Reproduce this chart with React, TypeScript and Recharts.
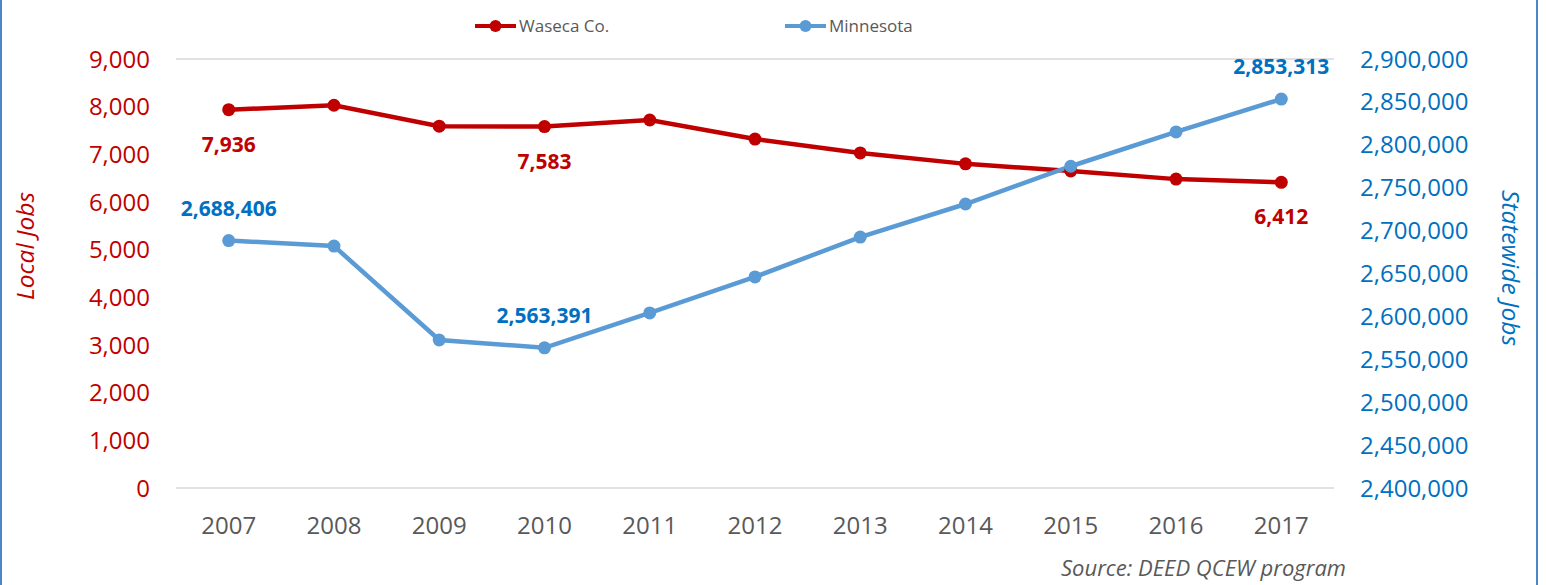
import { LineChart, Line, XAxis, YAxis, CartesianGrid } from 'recharts';

const years = ['2007', '2008', '2009', '2010', '2011', '2012', '2013', '2014', '2015', '2016', '2017'];
const wasecaJobs = [7936, 8030, 7590, 7583, 7720, 7320, 7030, 6800, 6650, 6480, 6412];
const minnesotaJobs = [2688406, 2682000, 2572500, 2563391, 2604000, 2646000, 2692500, 2731000, 2775000, 2815000, 2853313];
const localTicks = [0, 1000, 2000, 3000, 4000, 5000, 6000, 7000, 8000, 9000];
const statewideTicks = [2400000, 2450000, 2500000, 2550000, 2600000, 2650000, 2700000, 2750000, 2800000, 2850000, 2900000];
const labelledYears = ['2007', '2010', '2017'];

const RED = '#C00000';
const BLUE_LINE = '#5B9BD5';
const BLUE_TEXT = '#0070C0';
const GRAY = '#595959';
const FONT = '"Open Sans", sans-serif';

const data = years.map((year, i) => ({
  year,
  waseca: wasecaJobs[i],
  minnesota: minnesotaJobs[i],
}));

const fmt = (v: number) => v.toLocaleString('en-US');

function makeLabel(color: string, dy: number) {
  return (props: any) => {
    const { x, y, index, value } = props;
    if (!labelledYears.includes(years[index])) return null;
    return (
      <text
        x={x}
        y={y + dy}
        textAnchor="middle"
        fill={color}
        fontSize={21}
        fontWeight={700}
        fontFamily={FONT}
      >
        {fmt(value)}
      </text>
    );
  };
}

function LegendItem({ color, label, left }: { color: string; label: string; left: number }) {
  return (
    <div style={{ position: 'absolute', left, top: 17, display: 'flex', alignItems: 'center' }}>
      <svg width={41} height={14} style={{ marginRight: 3 }}>
        <line x1={0} y1={7} x2={41} y2={7} stroke={color} strokeWidth={4} />
        <circle cx={20.5} cy={7} r={6} fill={color} />
      </svg>
      <span style={{ color: GRAY, fontSize: 17, fontFamily: FONT, lineHeight: 1 }}>{label}</span>
    </div>
  );
}

export default function App() {
  return (
    <div style={{ position: 'relative', width: 1546, height: 585, background: '#fff' }}>
      <style>{'body { margin: 0; }'}</style>
      <div style={{ position: 'absolute', left: 0, top: 0, width: 2, height: 585, background: '#4A86C8' }} />
      <div style={{ position: 'absolute', left: 1536, top: 0, width: 2, height: 585, background: '#4A86C8' }} />
      <LineChart
        width={1546}
        height={585}
        data={data}
        margin={{ top: 59, right: 0, bottom: 0, left: 0 }}
      >
        <CartesianGrid vertical={false} stroke="#D9D9D9" strokeWidth={1.5} />
        <XAxis
          dataKey="year"
          height={97}
          axisLine={false}
          tickLine={false}
          tickMargin={23}
          padding={{ left: 52.7, right: 52.7 }}
          tick={{ fill: GRAY, fontSize: 24, fontFamily: FONT }}
        />
        <YAxis
          yAxisId="local"
          orientation="left"
          width={176}
          domain={[0, 9000]}
          ticks={localTicks}
          tickFormatter={fmt}
          axisLine={false}
          tickLine={false}
          tickMargin={20}
          tick={{ fill: RED, fontSize: 24, fontFamily: FONT }}
          label={{
            content: () => (
              <text
                transform="translate(34 246) rotate(-90)"
                textAnchor="middle"
                fill={RED}
                fontSize={24.5}
                fontStyle="italic"
                fontFamily={FONT}
              >
                Local Jobs
              </text>
            ),
          }}
        />
        <YAxis
          yAxisId="state"
          orientation="right"
          width={212}
          domain={[2400000, 2900000]}
          ticks={statewideTicks}
          tickFormatter={fmt}
          axisLine={false}
          tickLine={false}
          tickMargin={20}
          tick={{ fill: BLUE_TEXT, fontSize: 24, fontFamily: FONT }}
          label={{
            content: () => (
              <text
                transform="translate(1502 268) rotate(90)"
                textAnchor="middle"
                fill={BLUE_TEXT}
                fontSize={24.5}
                fontStyle="italic"
                fontFamily={FONT}
              >
                Statewide Jobs
              </text>
            ),
          }}
        />
        <Line
          yAxisId="local"
          dataKey="waseca"
          type="linear"
          stroke={RED}
          strokeWidth={4.5}
          dot={{ r: 6.5, fill: RED, stroke: RED, strokeWidth: 0 }}
          activeDot={false}
          label={makeLabel(RED, 42)}
          isAnimationActive={false}
        />
        <Line
          yAxisId="state"
          dataKey="minnesota"
          type="linear"
          stroke={BLUE_LINE}
          strokeWidth={4.5}
          dot={{ r: 6.5, fill: BLUE_LINE, stroke: BLUE_LINE, strokeWidth: 0 }}
          activeDot={false}
          label={makeLabel(BLUE_TEXT, -25)}
          isAnimationActive={false}
        />
      </LineChart>
      <LegendItem color={RED} label="Waseca Co." left={475} />
      <LegendItem color={BLUE_LINE} label="Minnesota" left={785} />
      <div
        style={{
          position: 'absolute',
          right: 1546 - 1346,
          top: 556,
          color: GRAY,
          fontSize: 22,
          lineHeight: 1,
          fontStyle: 'italic',
          fontFamily: FONT,
        }}
      >
        Source: DEED QCEW program
      </div>
    </div>
  );
}
